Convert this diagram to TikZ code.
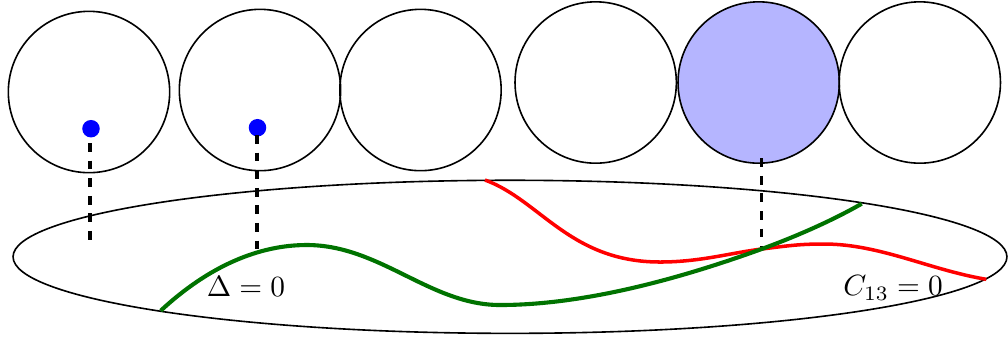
\documentclass[tikz,border=0pt]{standalone}
\usetikzlibrary{shapes.geometric}
\begin{document}
\begin{tikzpicture}[x=0.012cm,y=-0.012cm,
  sheet/.style={circle,draw=black,line width=0.55pt,minimum size=1.935cm,inner sep=0pt},
  pt/.style={circle,fill=blue,minimum size=0.21cm,inner sep=0pt},
  proj/.style={draw=black,dashed,line width=1.2pt},
  base/.style={ellipse,draw=black,line width=0.55pt,minimum width=11.92cm,minimum height=1.836cm,inner sep=0pt},
  gcurve/.style={draw=green!45!black,line width=1.4pt},
  rcurve/.style={draw=red,line width=1.2pt},
  lbl/.style={inner sep=0pt}]
\useasboundingbox (0,0) rectangle (1008,341);
% base ellipse
\node[base] (E) at (510,256.8) {};
% circles
\node[sheet] (c1) at (89,92) {};
\node[sheet] (c2) at (260,90) {};
\node[sheet] (c3) at (420.5,90) {};
\node[sheet] (c4) at (595.7,82.5) {};
\node[sheet,fill=blue!29] (c5) at (758.7,82.5) {};
\node[sheet] (c6) at (919.8,82.5) {};
% dots
\node[pt] (d1) at (91,128.7) {};
\node[pt] (d2) at (257.5,127.7) {};
% points
\coordinate (X) at (761.7,249);
\coordinate (e1) at (90,246);
\coordinate (e2) at (257,252);
\coordinate (s1) at (90,143);
\coordinate (s2) at (257,135);
\coordinate (s3) at (761.7,158.3);
% dashed projections
\draw[proj] (s1) -- (e1);
\draw[proj] (s2) -- (e2);
\draw[proj] (s3) -- (X);
% red curve
\draw[rcurve] (485,180) .. controls (540,200) and (570,262) .. (660,262)
  .. controls (700,262) and (730,253) .. (X)
  .. controls (790,245.5) and (800,244) .. (824,244)
  .. controls (880,244) and (930,270) .. (986.3,279.3);
% green curve
\draw[gcurve] (160.7,310.7) .. controls (210,265) and (260,245) .. (306.7,245)
  .. controls (380,245) and (430,305) .. (500,305)
  .. controls (590,305) and (690,275) .. (X)
  .. controls (800,235) and (835,219) .. (861.7,203.7);
% labels
\node[lbl] (L1) at (246,286) {$\Delta=0$};
\node[lbl] (L2) at (893,288) {$C_{13}=0$};
\end{tikzpicture}
\end{document}
